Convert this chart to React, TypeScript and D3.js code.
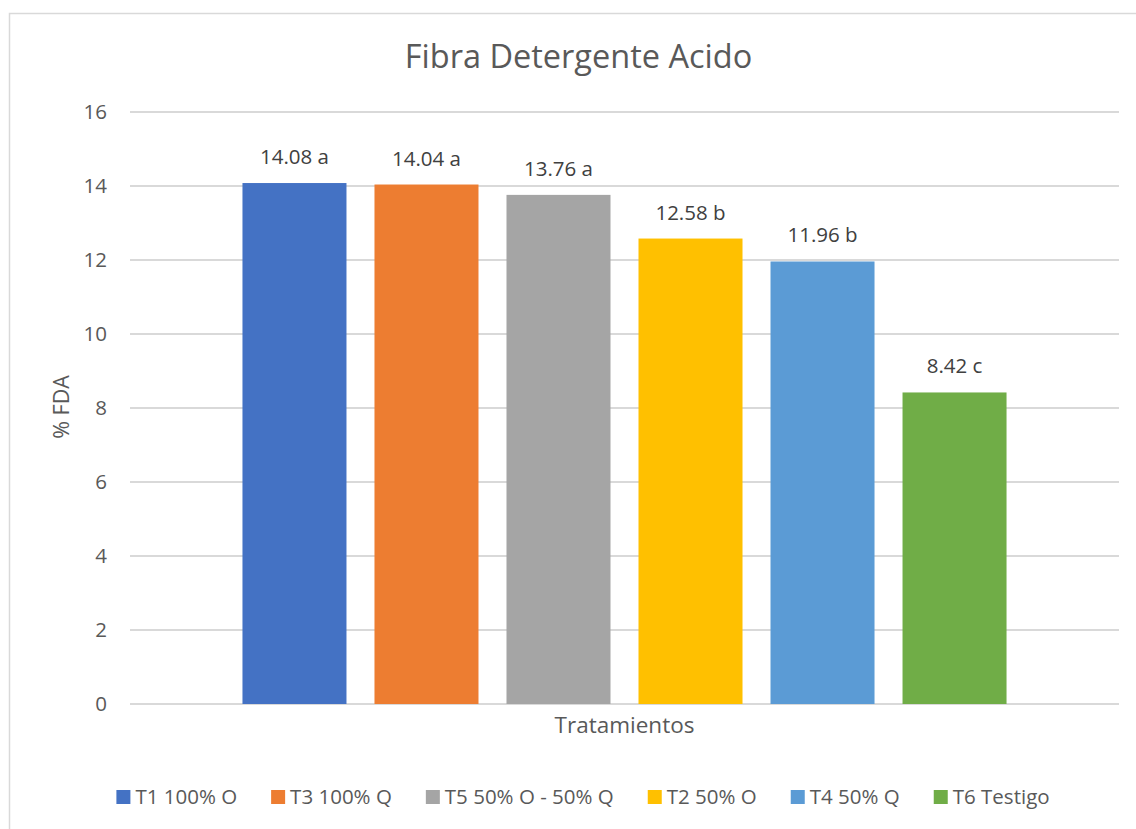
import React from "react";
import * as d3 from "d3";

const categories = ["Tratamientos"];
const seriesNames = ["T1 100% O", "T3 100% Q", "T5 50% O - 50% Q", "T2 50% O", "T4 50% Q", "T6 Testigo"];
const seriesValues = [14.08, 14.04, 13.76, 12.58, 11.96, 8.42];
const seriesLetters = ["a", "a", "a", "b", "b", "c"];
const seriesColors = ["#4472C4", "#ED7D31", "#A5A5A5", "#FFC000", "#5B9BD5", "#70AD47"];
const yTicks = [0, 2, 4, 6, 8, 10, 12, 14, 16];

const W = 1136;
const H = 829;
const FONT = "'Open Sans', sans-serif";
const TXT = "#595959";
const FS = 20.5;

function measure(text: string, size: number) {
  if (typeof document === "undefined") return text.length * size * 0.55;
  const c = document.createElement("canvas");
  const ctx = c.getContext("2d")!;
  ctx.font = `${size}px 'Open Sans'`;
  return ctx.measureText(text).width;
}

export default function App() {
  const plot = { left: 130, right: 1119, top: 112, bottom: 704 };
  const y = d3.scaleLinear().domain([0, 16]).range([plot.bottom, plot.top]);
  const x0 = d3.scaleBand<string>().domain(categories).range([plot.left, plot.right]).paddingInner(0).paddingOuter(0.1472);
  const x1 = d3
    .scaleBand<string>()
    .domain(seriesNames)
    .range([0, x0.bandwidth()])
    .paddingInner(28 / 132)
    .paddingOuter(0);

  // legend layout
  const sq = 14;
  const gapSqText = 5;
  const gapItems = 34;
  const widths = seriesNames.map((s) => measure(s, FS));
  const total = widths.reduce((a, w) => a + sq + gapSqText + w, 0) + gapItems * (seriesNames.length - 1);
  let lx = 583 - total / 2;
  const legendItems = seriesNames.map((s, i) => {
    const item = { name: s, x: lx, color: seriesColors[i] };
    lx += sq + gapSqText + widths[i] + gapItems;
    return item;
  });

  const cat = categories[0];

  return (
    <svg
      width={W}
      height={H}
      style={{ position: "absolute", left: 0, top: 0, background: "#fff", fontFamily: FONT }}
    >
      <rect x={0} y={0} width={W} height={H} fill="#fff" />
      <rect x={9.5} y={13.5} width={1300} height={1000} fill="none" stroke="#d9d9d9" strokeWidth={1.5} />
      <text x={578.5} y={68} textAnchor="middle" fontSize={32.5} fill={TXT}>
        Fibra Detergente Acido
      </text>
      {yTicks.map((t) => (
        <g key={t}>
          <line x1={plot.left} x2={plot.right} y1={y(t)} y2={y(t)} stroke="#d9d9d9" strokeWidth={1.8} />
          <text x={107} y={y(t)} dy="0.36em" textAnchor="end" fontSize={FS} fill={TXT}>
            {t}
          </text>
        </g>
      ))}
      {seriesNames.map((s, i) => {
        const bx = (x0(cat) as number) + (x1(s) as number);
        const v = seriesValues[i];
        return (
          <g key={s}>
            <rect x={bx} y={y(v)} width={x1.bandwidth()} height={y(0) - y(v)} fill={seriesColors[i]} />
            <text x={bx + x1.bandwidth() / 2} y={y(v) - 19} textAnchor="middle" fontSize={FS} fill="#404040">
              {v.toFixed(2)} {seriesLetters[i]}
            </text>
          </g>
        );
      })}
      <text x={(plot.left + plot.right) / 2} y={733} textAnchor="middle" fontSize={22.5} fill={TXT}>
        Tratamientos
      </text>
      <text
        transform={`translate(69, 407) rotate(-90)`}
        textAnchor="middle"
        fontSize={21.5}
        fill={TXT}
      >
        % FDA
      </text>
      {legendItems.map((it) => (
        <g key={it.name}>
          <rect x={it.x} y={790} width={sq} height={sq} fill={it.color} />
          <text x={it.x + sq + gapSqText} y={804} fontSize={FS} fill={TXT}>
            {it.name}
          </text>
        </g>
      ))}
    </svg>
  );
}
